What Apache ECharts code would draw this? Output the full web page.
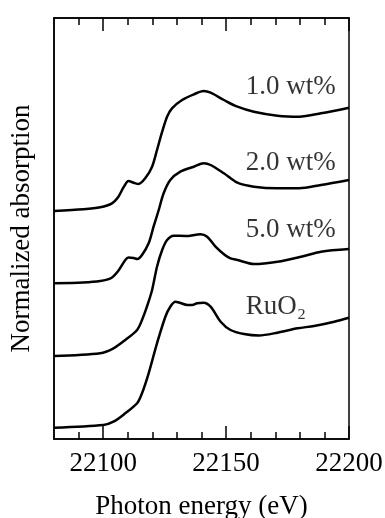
<!DOCTYPE html>
<html>
<head>
<meta charset="utf-8">
<script src="https://cdn.jsdelivr.net/npm/echarts@6/dist/echarts.min.js"></script>
<style>
  html, body { margin: 0; padding: 0; background: #fff; }
  #chart { width: 385px; height: 518px; }
</style>
</head>
<body>
<div id="chart"></div>
<script>
// photon energy (eV) / offset normalized absorption
const wt1 = [
  [22080, 2.28], [22092.0, 2.297], [22098.8, 2.317], [22103.6, 2.357], [22106.2, 2.423],
  [22108.3, 2.517], [22110.3, 2.58], [22112.4, 2.563], [22114.4, 2.55], [22117.1, 2.607],
  [22119.9, 2.723], [22121.9, 2.89], [22124.0, 3.073], [22126.0, 3.223], [22128.0, 3.307],
  [22132.1, 3.39], [22136.9, 3.447], [22140.9, 3.48], [22143.7, 3.463], [22149.1, 3.39],
  [22154.6, 3.323], [22161.3, 3.273], [22170.9, 3.233], [22179.7, 3.223], [22188.6, 3.257],
  [22200, 3.313]
];
const wt2 = [
  [22080, 1.557], [22091.8, 1.565], [22098.8, 1.58], [22103.3, 1.61], [22106.1, 1.68],
  [22109.0, 1.79], [22110.3, 1.815], [22112.4, 1.81], [22113.9, 1.80], [22115.8, 1.84],
  [22118.5, 1.957], [22120.5, 2.123], [22122.6, 2.29], [22124.6, 2.457], [22127.3, 2.59],
  [22131.4, 2.673], [22136.9, 2.723], [22140.9, 2.757], [22143.7, 2.74], [22149.1, 2.657],
  [22154.6, 2.563], [22161.3, 2.523], [22170.9, 2.507], [22179.7, 2.507], [22188.6, 2.54],
  [22200, 2.59]
];
const wt5 = [
  [22080, 0.83], [22098.8, 0.857], [22104.2, 0.907], [22109.0, 0.99], [22113.8, 1.09],
  [22115.8, 1.19], [22117.8, 1.323], [22119.9, 1.49], [22121.9, 1.723], [22124.0, 1.89],
  [22126.0, 1.99], [22128.7, 2.033], [22133.5, 2.03], [22139.6, 2.047], [22142.3, 2.023],
  [22145.7, 1.923], [22149.5, 1.84], [22151.8, 1.807], [22154.6, 1.79], [22161.3, 1.75],
  [22170.9, 1.773], [22180.5, 1.823], [22188.6, 1.873], [22200, 1.90]
];
const ruo2 = [
  [22080, 0.113], [22100.1, 0.14], [22104.2, 0.173], [22109.0, 0.257], [22113.8, 0.357],
  [22115.8, 0.457], [22118.5, 0.657], [22121.9, 0.957], [22125.3, 1.223], [22127.3, 1.323],
  [22129.4, 1.373], [22131.4, 1.36], [22134.2, 1.34], [22136.2, 1.34], [22138.2, 1.357],
  [22140.9, 1.363], [22143.7, 1.323], [22147.8, 1.173], [22151.8, 1.09], [22157.3, 1.05],
  [22163.3, 1.035], [22170.9, 1.063], [22179.1, 1.107], [22185.8, 1.13], [22194.0, 1.173],
  [22200, 1.213]
];

const labelNames = ["1.0 wt%", "2.0 wt%", "5.0 wt%", "RuO\u2082"];
const labelX = 22158;
const labelY = [3.52, 2.76, 2.09, 1.32];

const majorTicks = [22100, 22150, 22200];
const minorTicks = [22090, 22100, 22110, 22120, 22130, 22140, 22150, 22160, 22170, 22180, 22190];

const FONT = "'Liberation Serif', 'DejaVu Serif', 'Times New Roman', serif";

const chart = echarts.init(document.getElementById("chart"));

const gridBox = { left: 54, right: 36, top: 18, bottom: 79, outerBoundsMode: "none", containLabel: false };
const black = { color: "#000", width: 1.5 };

// grid 0 carries the data and the 10 eV ticks, grid 1 sits on top and only adds the long ticks
const xAx = (gridIndex, position, tick, extra) => ({
  type: "value",
  gridIndex,
  position,
  min: 22080,
  max: 22200,
  splitLine: { show: false },
  axisLine: { show: true, onZero: false, lineStyle: black },
  axisTick: { show: true, inside: true, lineStyle: black, ...tick },
  axisLabel: { show: false },
  ...extra,
});

const yAx = (gridIndex, position, extra) => ({
  type: "value",
  gridIndex,
  position,
  min: 0,
  max: 4.21,
  splitLine: { show: false },
  axisTick: { show: false },
  axisLabel: { show: false },
  axisLine: { show: true, onZero: false, lineStyle: black },
  ...extra,
});

const curve = (data) => ({
  type: "line",
  xAxisIndex: 0,
  yAxisIndex: 0,
  data: data,
  smooth: 0.3,
  symbol: "none",
  lineStyle: { color: "#000", width: 2.5 },
  silent: true,
});

const option = {
  animation: false,
  grid: [gridBox, gridBox],
  xAxis: [
    xAx(0, "bottom", { length: 7, customValues: minorTicks }, {
      axisLabel: {
        show: true,
        color: "#000",
        fontFamily: FONT,
        fontSize: 27,
        margin: 11,
        customValues: majorTicks,
        formatter: (v) => String(v),
      },
      name: "Photon energy (eV)",
      nameLocation: "middle",
      nameGap: 54,
      nameTextStyle: { color: "#000", fontFamily: FONT, fontSize: 27 },
    }),
    xAx(0, "top", { length: 7, customValues: minorTicks }),
    xAx(1, "bottom", { length: 13, customValues: majorTicks }),
    xAx(1, "top", { length: 13, customValues: majorTicks }),
  ],
  yAxis: [
    yAx(0, "left", {
      name: "Normalized absorption",
      nameLocation: "middle",
      nameGap: 19,
      nameTextStyle: { color: "#000", fontFamily: FONT, fontSize: 27 },
    }),
    yAx(0, "right"),
    yAx(1, "left"),
  ],
  series: [
    curve(wt1),
    curve(wt2),
    curve(wt5),
    curve(ruo2),
    {
      type: "scatter",
      xAxisIndex: 0,
      yAxisIndex: 0,
      symbolSize: 0,
      silent: true,
      data: labelNames.map((n, i) => ({ name: n, value: [labelX, labelY[i]] })),
      label: {
        show: true,
        position: "right",
        distance: 0,
        color: "#000",
        fontFamily: FONT,
        fontSize: 27,
        formatter: (p) => p.name,
      },
    },
  ],
};

chart.setOption(option);
</script>
</body>
</html>
